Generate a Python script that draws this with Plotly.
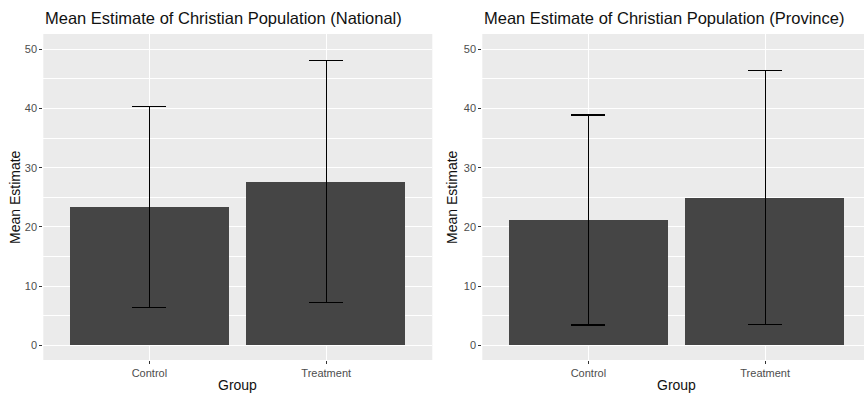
import plotly.graph_objects as go

groups = ["Control", "Treatment"]
national_mean = [23.3, 27.6]
national_lo = [6.4, 7.2]
national_hi = [40.3, 48.1]
province_mean = [21.2, 24.9]
province_lo = [3.4, 3.5]
province_hi = [38.9, 46.4]
y_ticks = [0, 10, 20, 30, 40, 50]

W, H = 864, 393
FONT = "Liberation Sans, Arial, Helvetica, sans-serif"
BAR = "#454545"
PANEL = "#EBEBEB"

def px_x(p):
    return p / W

def px_y(p):
    return 1 - p / H

fig = go.Figure()

def add_panel(mean, lo, hi, xa, ya):
    plus = [h - m for h, m in zip(hi, mean)]
    minus = [m - l for m, l in zip(mean, lo)]
    fig.add_trace(go.Bar(
        x=groups, y=mean, width=0.9, xaxis=xa, yaxis=ya,
        marker=dict(color=BAR, line=dict(width=0)),
        error_y=dict(type="data", array=plus, arrayminus=minus,
                     color="black", thickness=1.2, width=17, visible=True),
        showlegend=False, hoverinfo="skip",
    ))

add_panel(national_mean, national_lo, national_hi, "x", "y")
add_panel(province_mean, province_lo, province_hi, "x2", "y2")

top, bottom = 34, 360
ydom = [px_y(bottom), px_y(top)]
yrange = [-2.5, 52.6]

tickfont = dict(family=FONT, size=11, color="#4D4D4D")
common_x = dict(
    type="category", showgrid=True, gridcolor="white", gridwidth=1.1,
    zeroline=False, showline=False, ticks="outside", ticklen=3,
    tickcolor="#333333", tickwidth=1, tickfont=tickfont,
)
common_y = dict(
    range=yrange, tickvals=y_ticks, showgrid=True, gridcolor="white",
    gridwidth=1.1, zeroline=False, showline=False, ticks="outside",
    ticklen=3, tickcolor="#333333", tickwidth=1, tickfont=tickfont,
    minor=dict(dtick=5, tick0=5, showgrid=True, gridcolor="white",
               gridwidth=0.5, ticks=""),
)

fig.update_layout(
    width=W, height=H,
    margin=dict(l=0, r=0, t=0, b=0),
    paper_bgcolor="white", plot_bgcolor=PANEL,
    bargap=0,
    xaxis=dict(domain=[px_x(43.3), px_x(432.3)], range=[-0.6, 1.6],
               anchor="y", **common_x),
    yaxis=dict(domain=ydom, anchor="x", **common_y),
    xaxis2=dict(domain=[px_x(482.3), 1.0], range=[-0.6, 1.559],
                anchor="y2", **common_x),
    yaxis2=dict(domain=ydom, anchor="x2", **common_y),
)

titles = [
    ("Mean Estimate of Christian Population (National)", 43.3),
    ("Mean Estimate of Christian Population (Province)", 482.3),
]
for text, xl in titles:
    fig.add_annotation(text=text, x=px_x(xl), y=px_y(18), xref="paper",
                       yref="paper", xanchor="left", yanchor="middle",
                       showarrow=False,
                       font=dict(family=FONT, size=16.5, color="#111111"))

for xc in [(43.3 + 432.3) / 2, (482.3 + 482.3 + 389) / 2]:
    fig.add_annotation(text="Group", x=px_x(xc), y=px_y(385), xref="paper",
                       yref="paper", xanchor="center", yanchor="middle",
                       showarrow=False,
                       font=dict(family=FONT, size=14, color="#111111"))

for xc in [15, 452]:
    fig.add_annotation(text="Mean Estimate", x=px_x(xc), y=px_y(197),
                       xref="paper", yref="paper", xanchor="center",
                       yanchor="middle", textangle=-90, showarrow=False,
                       font=dict(family=FONT, size=14, color="#111111"))

# remove the default page margin so the 864x393 figure fills the window
fig.write_html(
    "out.html",
    config={"displayModeBar": False},
    post_script="document.body.style.margin='0';"
                "document.body.style.overflow='hidden';",
)
